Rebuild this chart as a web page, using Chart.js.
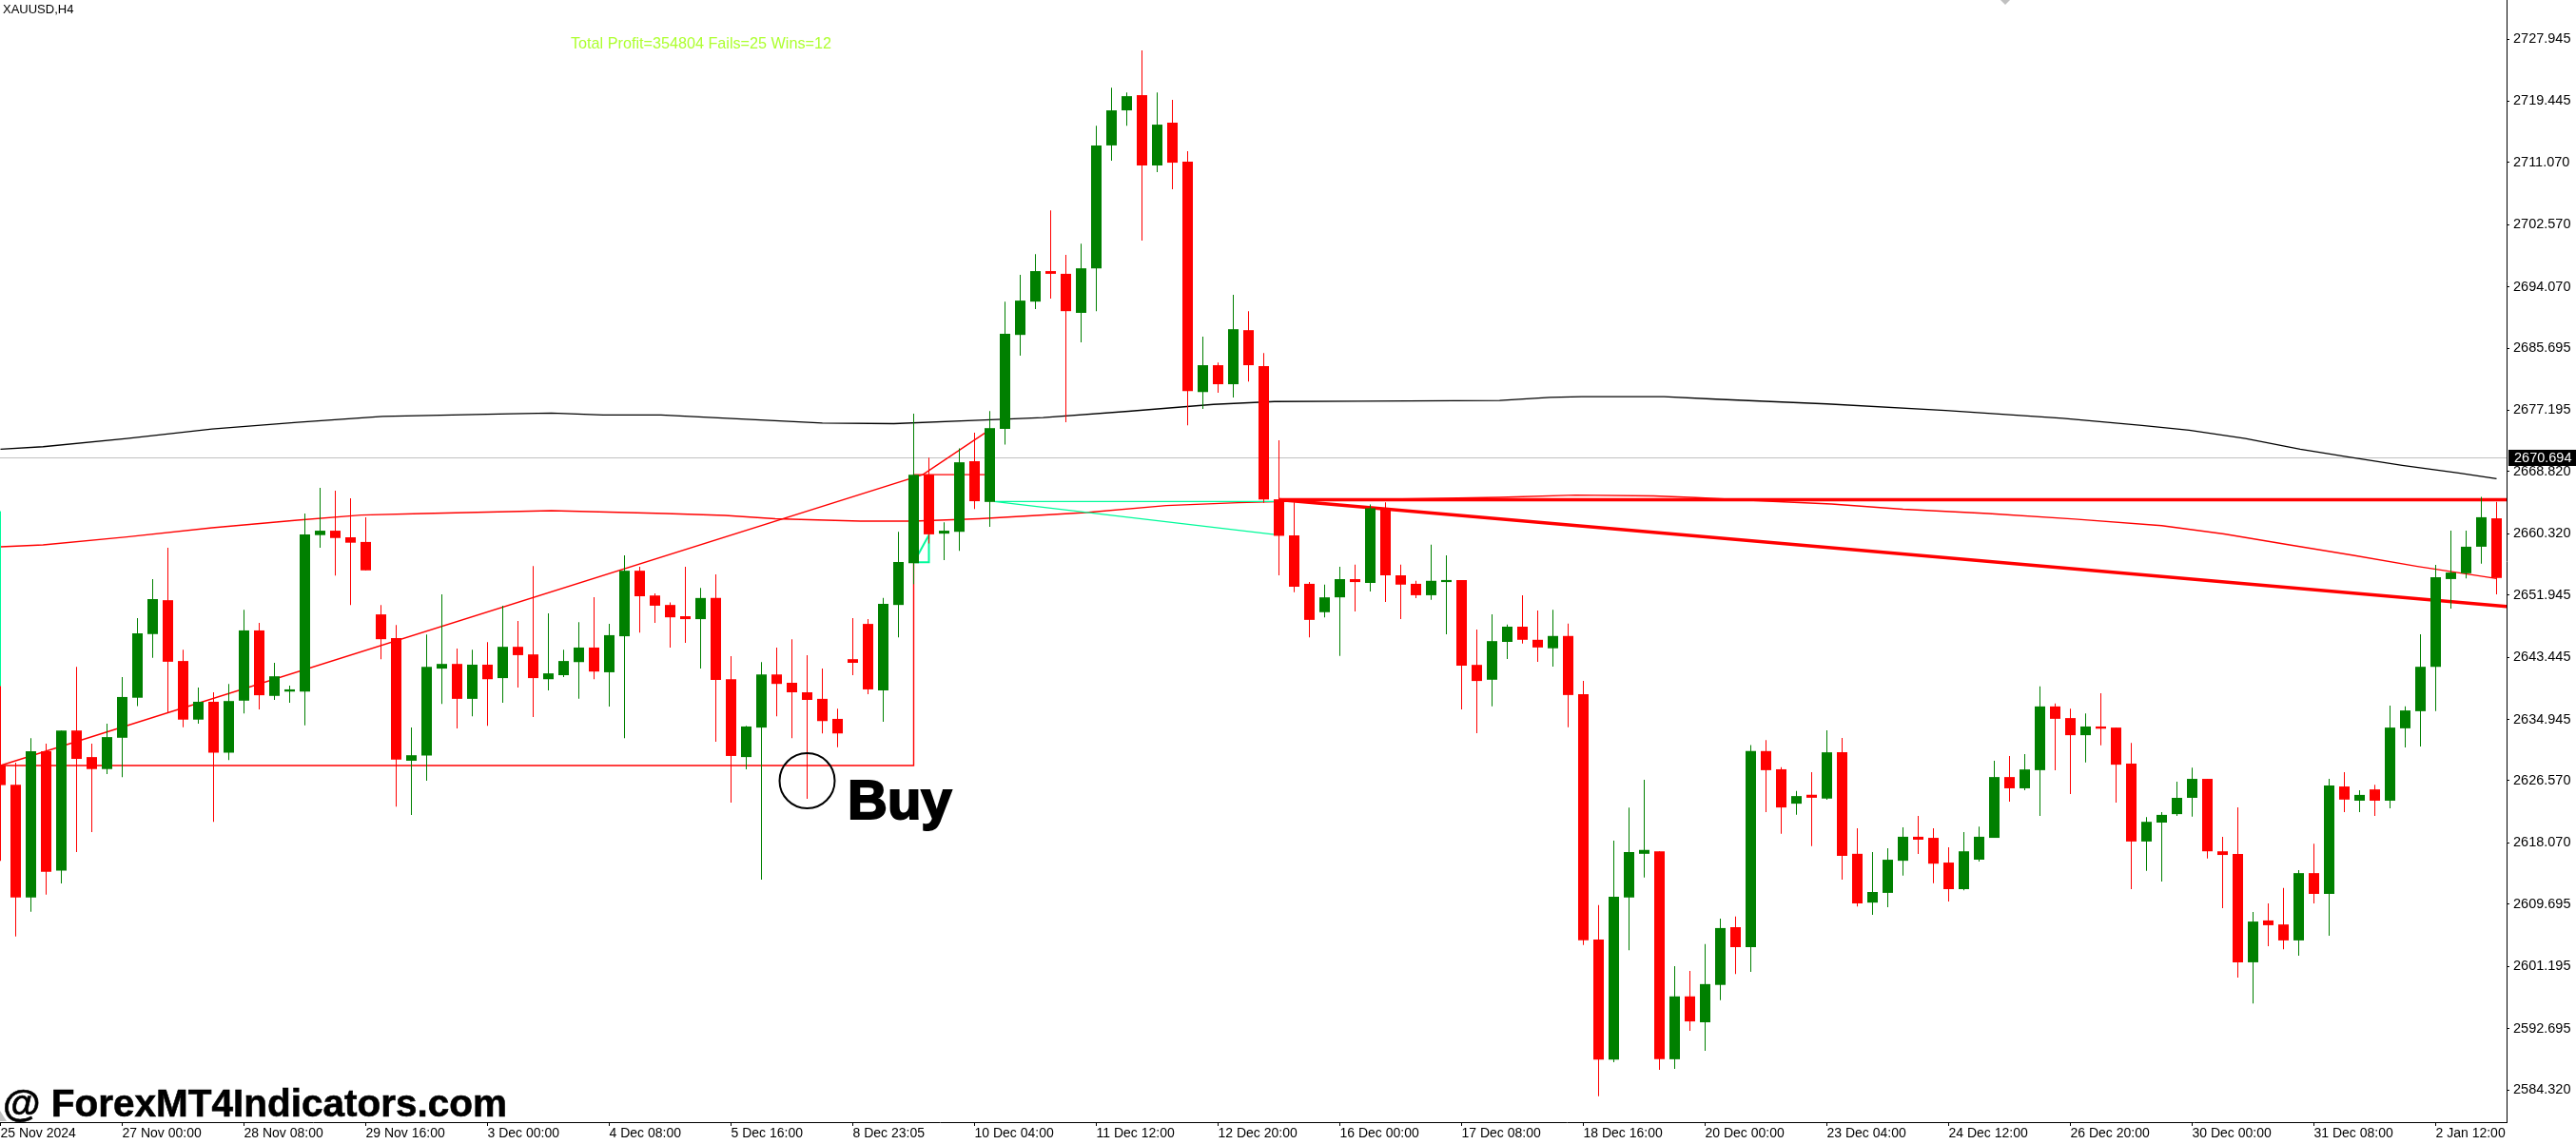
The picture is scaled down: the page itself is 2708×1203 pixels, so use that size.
<!DOCTYPE html>
<html><head><meta charset="utf-8">
<script src="https://cdn.jsdelivr.net/npm/chart.js@4/dist/chart.umd.min.js"></script>
<style>html,body{margin:0;padding:0;background:#fff}canvas{display:block}</style>
</head><body>
<canvas id="c" width="2708" height="1203"></canvas>
<script>
const openP=[
2628.66,2626.02,2610.6,2630.59,2614.28,2633.43,2629.8,2628.16,2632.44,2637.91,
2646.61,2651.24,2642.93,2634.92,2637.36,2630.4,2637.51,2647.11,2638.16,2638.75,
2638.75,2660.14,2660.74,2659.84,2659.2,2649.3,2646.06,2629.3,2630.0,2641.89,
2642.53,2637.76,2642.43,2640.59,2644.87,2643.83,2640.44,2640.99,2642.78,2644.77,
2641.39,2646.31,2655.27,2651.88,2650.59,2649.05,2648.65,2651.54,2640.44,2629.8,
2633.83,2641.09,2639.95,2638.65,2637.76,2635.02,2643.18,2648.0,2638.9,2650.59,
2656.31,2668.4,2660.34,2660.59,2670.24,2664.67,2674.64,2687.5,2692.05,2696.22,
2695.85,2690.51,2696.6,2713.4,2718.19,2720.27,2710.66,2716.51,2711.17,2679.69,
2683.36,2680.76,2688.15,2683.22,2665.03,2660.1,2653.48,2649.6,2651.63,2654.12,
2653.6,2663.81,2654.64,2653.48,2651.92,2653.72,2654.0,2642.4,2640.37,2645.54,
2647.62,2645.83,2644.67,2646.35,2638.4,2604.86,2588.44,2610.61,2616.58,2616.93,
2588.5,2597.09,2593.55,2598.66,2606.55,2603.82,2630.62,2628.13,2623.43,2624.65,
2624.13,2630.45,2616.58,2609.91,2611.24,2615.63,2618.91,2618.76,2615.38,2611.75,
2615.78,2618.76,2627.07,2625.53,2628.01,2636.72,2635.13,2632.79,2633.98,2633.83,
2628.91,2618.26,2620.85,2622.0,2624.23,2626.82,2616.92,2616.57,2601.75,2607.47,
2606.92,2604.74,2613.94,2611.1,2625.78,2623.84,2625.38,2623.84,2633.73,2636.07,
2642.14,2654.13,2654.92,2658.55,2662.43];
const highP=[
2639.5,2629.05,2632.39,2631.64,2633.43,2642.14,2631.64,2634.38,2640.74,2648.8,
2654.12,2658.4,2644.47,2639.3,2638.65,2639.8,2649.94,2648.15,2642.68,2639.55,
2663.08,2666.61,2666.21,2665.16,2662.58,2650.59,2647.85,2633.83,2646.56,2652.03,
2644.62,2644.47,2645.52,2650.49,2648.4,2655.91,2649.45,2644.47,2648.25,2651.64,
2648.0,2657.36,2655.81,2652.18,2650.94,2655.81,2652.93,2654.77,2643.58,2634.08,
2642.78,2644.77,2645.91,2643.73,2641.89,2636.41,2648.8,2648.65,2651.54,2660.59,
2676.75,2670.74,2661.88,2671.98,2674.12,2677.1,2692.05,2695.71,2698.54,2704.53,
2698.45,2699.98,2716.1,2721.3,2720.65,2726.4,2720.65,2719.62,2712.61,2687.26,
2683.73,2692.97,2690.75,2685.03,2673.1,2664.62,2653.72,2653.37,2655.8,2656.09,
2664.33,2664.62,2656.09,2653.89,2658.82,2657.37,2654.0,2647.22,2649.31,2647.91,
2651.92,2649.83,2649.94,2648.03,2640.2,2609.56,2618.38,2622.91,2626.68,2616.93,
2601.21,2600.57,2604.23,2607.71,2608.0,2631.44,2632.13,2628.42,2625.17,2627.72,
2633.47,2632.42,2620.07,2616.82,2617.34,2620.2,2621.75,2620.06,2617.47,2619.56,
2620.3,2629.31,2629.95,2630.2,2639.45,2637.12,2636.42,2635.77,2638.51,2633.83,
2631.74,2621.6,2622.29,2626.42,2628.36,2626.82,2618.91,2622.94,2608.62,2609.81,
2611.9,2614.34,2617.97,2626.82,2627.72,2625.28,2626.02,2636.82,2636.72,2646.57,
2656.07,2660.74,2660.74,2665.37,2664.67];
const lowP=[
2615.62,2605.28,2608.66,2611.0,2612.54,2616.82,2619.55,2627.46,2627.06,2636.76,
2643.38,2635.92,2633.88,2634.38,2620.95,2629.4,2635.77,2636.32,2637.61,2637.21,
2634.13,2658.4,2654.62,2650.59,2655.32,2643.18,2623.03,2621.89,2626.57,2637.06,
2633.73,2635.37,2634.08,2637.21,2639.3,2635.27,2638.9,2640.74,2637.76,2640.44,
2636.71,2632.39,2646.81,2648.15,2644.77,2645.42,2641.89,2631.89,2623.58,2628.11,
2613.04,2635.37,2632.39,2624.08,2633.03,2631.14,2640.99,2638.4,2634.62,2646.16,
2653.43,2659.0,2656.71,2658.0,2663.72,2661.28,2672.5,2684.66,2691.02,2692.46,
2675.56,2686.47,2690.75,2711.31,2716.1,2700.4,2709.74,2707.41,2675.15,2677.37,
2679.6,2678.95,2681.13,2664.56,2654.64,2652.32,2646.17,2648.9,2643.62,2649.71,
2652.44,2650.99,2648.67,2651.51,2651.28,2646.58,2636.31,2633.06,2636.72,2643.21,
2645.3,2642.81,2642.17,2633.87,2604.11,2583.45,2588.09,2603.41,2613.33,2587.05,
2587.17,2592.39,2589.66,2596.57,2600.16,2600.45,2622.27,2619.31,2621.92,2617.63,
2623.95,2613.04,2609.39,2608.23,2609.27,2613.59,2616.57,2612.55,2610.06,2611.6,
2615.53,2618.76,2623.69,2625.28,2621.75,2628.01,2624.73,2629.06,2631.4,2623.59,
2611.75,2614.24,2612.79,2621.75,2621.65,2615.93,2609.16,2599.66,2596.13,2603.94,
2603.54,2602.65,2609.81,2605.38,2622.29,2622.29,2621.75,2622.79,2631.1,2631.25,
2636.07,2650.1,2654.23,2656.22,2652.04];
const closeP=[
2625.97,2610.6,2630.59,2614.13,2633.43,2629.55,2628.16,2632.53,2638.01,2646.71,
2651.39,2642.83,2634.92,2637.36,2630.4,2637.46,2647.11,2638.25,2640.84,2639.05,
2660.24,2660.74,2659.74,2659.1,2655.32,2645.91,2629.45,2630.05,2642.14,2642.53,
2637.76,2642.43,2640.44,2644.87,2643.73,2640.59,2641.24,2642.93,2644.77,2641.49,
2646.46,2655.27,2651.78,2650.49,2648.9,2648.65,2651.54,2640.34,2629.95,2633.98,
2641.09,2639.8,2638.65,2637.61,2634.72,2633.03,2642.68,2639.05,2650.74,2656.46,
2668.4,2660.24,2660.74,2670.09,2664.77,2674.76,2687.64,2692.19,2696.22,2695.85,
2690.75,2696.6,2713.4,2718.19,2720.13,2710.66,2716.24,2711.04,2679.83,2683.36,
2680.76,2688.28,2683.36,2665.02,2660.04,2653.08,2648.55,2651.63,2654.12,2653.72,
2663.81,2654.64,2653.37,2651.92,2653.89,2654.0,2642.29,2640.2,2645.65,2647.62,
2645.83,2644.78,2646.35,2638.28,2604.75,2588.44,2610.72,2616.82,2617.11,2588.5,
2597.09,2593.67,2598.77,2606.43,2603.82,2630.62,2628.01,2622.91,2624.47,2624.24,
2630.45,2616.29,2609.8,2611.36,2615.77,2618.91,2618.51,2615.23,2611.75,2616.92,
2618.91,2627.07,2625.53,2628.11,2636.72,2635.03,2632.79,2633.98,2633.68,2628.76,
2618.26,2620.95,2621.9,2624.23,2626.82,2616.92,2616.42,2601.75,2607.32,2606.82,
2604.74,2613.94,2611.1,2625.93,2623.99,2624.63,2623.84,2633.83,2636.17,2642.14,
2654.38,2655.02,2658.55,2662.58,2654.28];

const xTickBars=[0,8,16,24,32,40,48,56,64,72,80,88,96,104,112,120,128,136,144,152,160];
const xTickLabels=["25 Nov 2024","27 Nov 00:00","28 Nov 08:00","29 Nov 16:00","3 Dec 00:00","4 Dec 08:00","5 Dec 16:00","8 Dec 23:05","10 Dec 04:00","11 Dec 12:00","12 Dec 20:00","16 Dec 00:00","17 Dec 08:00","18 Dec 16:00","20 Dec 00:00","23 Dec 04:00","24 Dec 12:00","26 Dec 20:00","30 Dec 00:00","31 Dec 08:00","2 Jan 12:00"];
const yTickValues=[2727.945,2719.445,2711.070,2702.570,2694.070,2685.695,2677.195,2668.820,2660.320,2651.945,2643.445,2634.945,2626.570,2618.070,2609.695,2601.195,2592.695,2584.320];

const blackMaBar=[0,2.8,8.3,13.9,19.5,25.1,33.5,36.2,39.6,43.4,49,54,58.7,64.3,68.5,74.1,79.7,83.7,89.4,98.5,101.8,103.9,109.3,112.7,116.3,120,127.8,135.5,140.7,143.8,147.5,151.1,154.2,157.8,161.5,164];
const blackMaVal=[2671.88,2672.22,2673.35,2674.65,2675.56,2676.35,2676.71,2676.81,2676.55,2676.55,2675.96,2675.46,2675.37,2675.83,2676.21,2677.06,2678.0,2678.39,2678.43,2678.55,2678.95,2679.07,2679.07,2678.72,2678.39,2678.07,2677.17,2676.09,2675.14,2674.49,2673.35,2671.88,2670.85,2669.68,2668.64,2667.86];
const redMaBar=[0,2.8,8.3,13.9,19.5,23.7,27.8,36.2,43.7,47.6,50.9,56.5,60,64.3,71.3,76.6,81.3,87.5,98.5,103.5,108.6,111.4,116.1,120.3,125,130.6,136.3,142,146.1,150.4,154.6,158.8,164];
const redMaVal=[2658.54,2658.8,2659.89,2661.14,2662.18,2662.88,2663.09,2663.47,2663.09,2662.83,2662.38,2662.05,2662.05,2662.38,2663.22,2664.18,2664.57,2664.9,2665.3,2665.61,2665.49,2665.26,2664.78,2664.39,2663.67,2663.09,2662.33,2661.43,2660.29,2658.8,2657.37,2655.86,2654.2];

const lastPrice=2670.694;
const boxBar=[0,60,60,64.7];
const boxVal=[2628.64,2628.64,2668.4,2668.4];
const riseBar=[0,60.6,64.7];
const riseVal=[2628.64,2668.4,2674.13];
const tealEdgeBar=[0,0];
const tealEdgeVal=[2663.37,2639.5];
const tealSmallBar=[60,61,61,60.3];
const tealSmallVal=[2656.42,2656.42,2660.15,2657.5];
const tealWedgeBar=[84,65.3,84];
const tealWedgeVal=[2664.72,2664.72,2660.15];
const levelBar=[84,165];
const levelVal=[2664.97,2664.97];
const trendBar=[84,164.66];
const trendVal=[2664.97,2650.39];
const buyMarkBar=53, buyMarkVal=2626.57;

const GREEN='#008000', RED='#ff0000', TEAL='#00fa9a', FONT='"Liberation Sans", Arial, sans-serif';
const colors=openP.map((o,i)=>closeP[i]>=o?GREEN:RED);
const pts=(xs,ys)=>xs.map((x,i)=>({x,y:ys[i]}));
const line=(xs,ys,color,w,order)=>({type:'line',data:pts(xs,ys),borderColor:color,borderWidth:w,pointRadius:0,tension:0,fill:false,order,borderJoinStyle:'miter'});

const overlays={id:'overlays',afterDraw(ch){
  const c=ch.ctx,xS=ch.scales.x,yS=ch.scales.y;
  c.save();
  c.textBaseline='alphabetic';c.textAlign='left';
  c.fillStyle='#000';c.font='13px '+FONT;c.fillText('XAUUSD,H4',3,14);
  c.fillStyle='#adff2f';c.font='16.2px '+FONT;c.fillText('Total Profit=354804 Fails=25 Wins=12',600,51);
  // last price tag
  const ty=yS.getPixelForValue(lastPrice);
  c.fillStyle='#000';c.fillRect(2637,ty-8.5,71,17);
  c.fillStyle='#fff';c.font='14.5px '+FONT;c.textBaseline='middle';c.fillText(lastPrice.toFixed(3),2643,ty+0.5);
  c.textBaseline='alphabetic';
  // buy marker
  c.strokeStyle='#000';c.lineWidth=2;c.beginPath();
  c.arc(xS.getPixelForValue(buyMarkBar),yS.getPixelForValue(buyMarkVal),29,0,Math.PI*2);c.stroke();
  c.fillStyle='#000';c.font='bold 58px '+FONT;c.lineWidth=2;c.strokeText('Buy',891,861);c.fillText('Buy',891,861);
  c.font='bold 40.5px '+FONT;c.lineWidth=.6;c.strokeText('@ ForexMT4Indicators.com',3,1174);c.fillText('@ ForexMT4Indicators.com',3,1174);
  // chart shift markers
  c.fillStyle='#c0c0c0';
  c.beginPath();c.moveTo(2103,0);c.lineTo(2113,0);c.lineTo(2108,5);c.fill();
  c.beginPath();c.moveTo(0,1168);c.lineTo(0,1179);c.lineTo(7,1179);c.fill();
  c.restore();
}};

new Chart(document.getElementById('c'),{
  type:'bar',
  data:{datasets:[
    {data:openP.map((o,i)=>({x:i,y:[Math.min(o,closeP[i]),Math.max(o,closeP[i])]})),backgroundColor:colors,barThickness:11,order:0,borderWidth:0,inflateAmount:0,grouped:false},
    {data:openP.map((o,i)=>({x:i,y:[lowP[i],highP[i]]})),backgroundColor:colors,barThickness:1,order:1,borderWidth:0,inflateAmount:0,grouped:false},
    line(levelBar,levelVal,RED,3.4,2),
    line(trendBar,trendVal,RED,3.4,2),
    line(tealEdgeBar,tealEdgeVal,TEAL,1,3),
    line(tealSmallBar,tealSmallVal,TEAL,2,3),
    line(tealWedgeBar,tealWedgeVal,TEAL,1.3,4),
    line(riseBar,riseVal,RED,1.4,4),
    line(boxBar,boxVal,RED,1.4,4),
    line(redMaBar,redMaVal,RED,1.4,5),
    line(blackMaBar,blackMaVal,'#000',1.3,5),
    line([-1,166],[lastPrice,lastPrice],'#c0c0c0',1.2,6)
  ]},
  plugins:[overlays],
  options:{
    responsive:false,animation:false,devicePixelRatio:1,
    layout:{padding:0},
    datasets:{bar:{grouped:false}},
    plugins:{legend:{display:false},title:{display:false},tooltip:{enabled:false}},
    scales:{
      x:{type:'linear',position:'bottom',offset:false,bounds:'data',min:-0.03125,max:164.65625,
        grid:{display:true,offset:false,drawOnChartArea:false,drawTicks:true,tickLength:4,tickColor:'#000',tickWidth:1,color:'#000'},
        border:{display:true,color:'#000',width:1},
        ticks:{autoSkip:false,maxRotation:0,minRotation:0,align:'start',padding:0,color:'#000',font:{family:FONT,size:14},callback:(v,i)=>xTickLabels[i]},
        afterBuildTicks(s){s.ticks=xTickBars.map(v=>({value:v}));},
        afterFit(s){s.height=23;s.paddingLeft=0;s.paddingRight=0;}
      },
      y:{type:'linear',position:'right',bounds:'data',min:2579.905,max:2733.274,
        grid:{display:true,drawOnChartArea:false,drawTicks:true,tickLength:3,tickColor:'#000',tickWidth:1,color:'#000'},
        border:{display:true,color:'#000',width:1},
        ticks:{autoSkip:false,padding:4,color:'#000',font:{family:FONT,size:14.5},callback:v=>v.toFixed(3)},
        afterBuildTicks(s){s.ticks=yTickValues.map(v=>({value:v}));},
        afterFit(s){s.width=73;s.paddingTop=0;s.paddingBottom=0;}
      }
    }
  }
});
</script>
</body></html>
